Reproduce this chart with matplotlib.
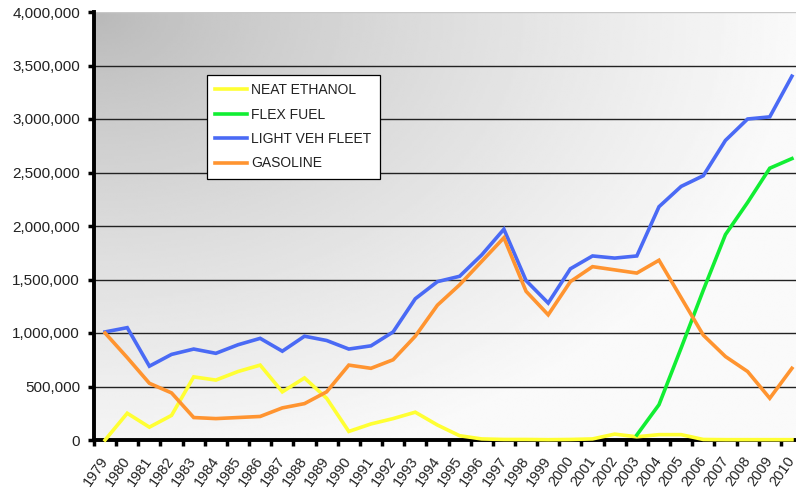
import matplotlib.pyplot as plt
import numpy as np

# Data series (1979-2010)
years = list(range(1979, 2011))

neat_ethanol = [0, 250000, 120000, 230000, 590000, 560000, 640000, 700000,
                450000, 580000, 390000, 80000, 150000, 200000, 260000, 140000,
                40000, 10000, 5000, 5000, 3000, 5000, 10000, 55000,
                30000, 50000, 50000, 5000, 3000, 3000, 3000, 3000]

flex_fuel = [np.nan] * 24 + [47000, 330000, 860000, 1400000, 1920000,
                             2220000, 2540000, 2630000]

light_veh_fleet = [1010000, 1050000, 690000, 800000, 850000, 810000, 890000, 950000,
                   830000, 970000, 930000, 850000, 880000, 1010000, 1320000, 1480000,
                   1530000, 1730000, 1970000, 1490000, 1280000, 1600000, 1720000, 1700000,
                   1720000, 2180000, 2370000, 2470000, 2800000, 3000000, 3020000, 3400000]

gasoline = [1000000, 770000, 530000, 440000, 210000, 200000, 210000, 220000,
            300000, 340000, 450000, 700000, 670000, 750000, 970000, 1260000,
            1450000, 1670000, 1890000, 1390000, 1170000, 1480000, 1620000, 1590000,
            1560000, 1680000, 1330000, 980000, 780000, 640000, 390000, 670000]

series = [
    ('NEAT ETHANOL', neat_ethanol, '#ffff33'),
    ('FLEX FUEL', flex_fuel, '#11ee33'),
    ('LIGHT VEH FLEET', light_veh_fleet, '#4a6af5'),
    ('GASOLINE', gasoline, '#ff9430'),
]

plt.rcParams['font.family'] = ['Liberation Sans', 'DejaVu Sans']

fig = plt.figure(figsize=(7.96, 4.93), dpi=100)
ax = fig.add_axes([94 / 796, 53 / 493, 709 / 796, 428 / 493])

# gray-to-white shading from the top-left corner
u, v = np.meshgrid(np.linspace(0, 1, 300), np.linspace(0, 1, 200))
d = np.clip(np.sqrt(u ** 2 + (v * 0.9) ** 2), 0, 1)
shade = 0.72 + 0.26 * d ** 0.8
ax.imshow(shade, cmap='gray', vmin=0, vmax=1, extent=[0, 1, 0, 1],
          transform=ax.transAxes, aspect='auto', zorder=0, interpolation='bilinear')

x = np.arange(len(years))
for i, (name, vals, col) in enumerate(series):
    ax.plot(x, vals, color=col, linewidth=2.6, label=name, zorder=4 + i,
            clip_on=False, solid_joinstyle='miter')

ax.set_xlim(-0.5, len(years) - 0.5)
ax.set_ylim(0, 4000000)

# horizontal gridlines
for yv in range(500000, 4000001, 500000):
    ax.axhline(yv, color='#222222' if yv < 4000000 else '#c8c8c8',
               linewidth=1.0, zorder=1)

ax.set_yticks(range(0, 4000001, 500000))
ax.set_yticklabels([f'{v:,}' for v in range(0, 4000001, 500000)],
                   fontsize=11, color='#222222')
ax.tick_params(axis='y', length=4, width=2.5, direction='out', pad=6)

ax.set_xticks(x)
ax.set_xticklabels([str(y) for y in years], rotation=55, fontsize=10.5,
                   color='#222222', ha='right', va='center', rotation_mode='anchor')
ax.tick_params(axis='x', which='major', length=0, pad=13)
ax.set_xticks(np.arange(-0.5, len(years), 1), minor=True)
ax.tick_params(axis='x', which='minor', length=4, width=2.5, direction='out')

for side in ['top', 'right']:
    ax.spines[side].set_visible(False)
for side in ['left', 'bottom']:
    ax.spines[side].set_linewidth(2.8)
    ax.spines[side].set_color('black')

leg = ax.legend(loc='upper left', bbox_to_anchor=(0.159, 0.853), borderaxespad=0,
                fontsize=10, frameon=True, fancybox=False, framealpha=1,
                edgecolor='black', handlelength=2.3, handletextpad=0.3,
                labelspacing=0.75, borderpad=0.6)
leg.get_frame().set_linewidth(0.9)
for t in leg.get_texts():
    t.set_color('#222222')
for h in leg.get_lines():
    h.set_linewidth(2.6)
leg.set_zorder(10)

fig.savefig('out.png', dpi=100)
